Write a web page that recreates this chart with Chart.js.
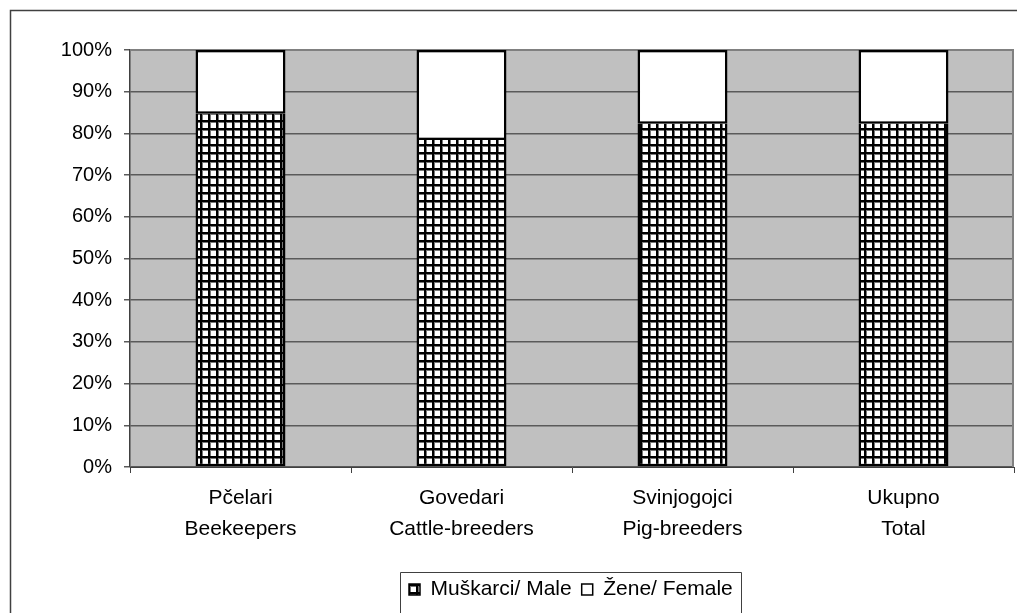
<!DOCTYPE html>
<html><head><meta charset="utf-8">
<script src="https://cdn.jsdelivr.net/npm/chart.js@4"></script>
<style>html,body{margin:0;padding:0;background:#fff}canvas{display:block}</style>
</head><body>
<canvas id="c" width="1017" height="613"></canvas>
<script>
const categories = [["Pčelari","Beekeepers"],["Govedari","Cattle-breeders"],["Svinjogojci","Pig-breeders"],["Ukupno","Total"]];
const maleValues = [84.7, 78.4, 82.3, 82.3];
const femaleValues = [15.3, 21.6, 17.7, 17.7];
const seriesNames = ["Muškarci/ Male", "Žene/ Female"];
const yTickLabels = ["0%","10%","20%","30%","40%","50%","60%","70%","80%","90%","100%"];

const FONT = "'Liberation Sans', Arial, sans-serif";
const canvas = document.getElementById('c');
const ctx = canvas.getContext('2d');

function makeGridPattern(){
  const c = document.createElement('canvas');
  c.width = 8; c.height = 8;
  const g = c.getContext('2d');
  g.fillStyle = '#fff'; g.fillRect(0,0,8,8);
  g.fillStyle = '#777'; g.fillRect(0,0,3,8); g.fillRect(0,0,8,3);
  g.fillStyle = '#000'; g.fillRect(0,0,2,8); g.fillRect(0,0,8,2);
  return ctx.createPattern(c, 'repeat');
}
const gridPattern = makeGridPattern();

const PLOT_BOTTOM = 467;
const PAD_BOTTOM = 3;

const decor = {
  id: 'decor',
  beforeDraw(chart){
    const a = chart.chartArea, c = chart.ctx;
    c.save();
    c.fillStyle = '#fff'; c.fillRect(0,0,chart.width,chart.height);
    c.strokeStyle = '#404040'; c.lineWidth = 1.5;
    c.strokeRect(10.5, 10.5, 1200, 800);
    c.fillStyle = '#c0c0c0';
    c.fillRect(a.left, a.top, a.right - a.left, a.bottom - a.top);
    c.restore();
  },
  beforeDatasetsDraw(chart){
    const a = chart.chartArea, c = chart.ctx;
    c.save();
    c.strokeStyle = '#808080'; c.lineWidth = 2;
    c.beginPath();
    c.moveTo(a.left, a.top); c.lineTo(a.right - 1, a.top); c.lineTo(a.right - 1, a.bottom);
    c.stroke();
    c.restore();
  },
  afterLayout(chart){
    chart.legend.left = 399;
  },
  afterDraw(chart){
    const lg = chart.legend, c = chart.ctx;
    c.save();
    c.strokeStyle = '#404040'; c.lineWidth = 1;
    const x0 = 400.5, x1 = Math.round(lg.left + lg.lineWidths[0] + 8) + 0.5;
    c.beginPath();
    c.moveTo(x0, 700); c.lineTo(x0, 572.5); c.lineTo(x1, 572.5); c.lineTo(x1, 700);
    c.stroke();
    c.restore();
  }
};

new Chart(canvas, {
  type: 'bar',
  data: {
    labels: categories,
    datasets: [
      { label: seriesNames[0], data: maleValues, backgroundColor: gridPattern, borderColor: '#000', borderWidth: 2.5, borderSkipped: 'top' },
      { label: seriesNames[1], data: femaleValues, backgroundColor: '#fff', borderColor: '#000', borderWidth: 2.5, borderSkipped: false }
    ]
  },
  options: {
    responsive: false,
    animation: false,
    devicePixelRatio: 1,
    layout: { padding: { left: 0, right: 3, top: 50, bottom: PAD_BOTTOM } },
    datasets: { bar: { categoryPercentage: 1, barPercentage: 0.407 } },
    scales: {
      x: {
        stacked: true,
        grid: { offset: true, drawOnChartArea: false, drawTicks: true, tickLength: 6, color: '#404040' },
        border: { display: true, color: '#404040', width: 1 },
        ticks: { color: '#000', padding: 9, font: { family: FONT, size: 21, lineHeight: 1.5 }, maxRotation: 0, autoSkip: false },
        afterFit(s){ s.height = s.chart.height - PLOT_BOTTOM - s.chart.legend.height - PAD_BOTTOM; }
      },
      y: {
        stacked: true,
        min: 0, max: 100,
        grid: { color: '#5a5a5a', lineWidth: 1.5, tickLength: 6, drawTicks: true },
        border: { display: true, color: '#404040', width: 1.5 },
        ticks: { stepSize: 10, color: '#000', padding: 12, font: { family: FONT, size: 20 },
          callback: (v) => yTickLabels[Math.round(v/10)] },
        afterFit(s){ s.width = 130; }
      }
    },
    plugins: {
      tooltip: { enabled: false },
      legend: {
        position: 'bottom',
        align: 'start',
        labels: {
          color: '#000',
          font: { family: FONT, size: 21 },
          boxWidth: 11, boxHeight: 11, padding: 10,
          generateLabels: (chart) => Chart.defaults.plugins.legend.labels.generateLabels(chart).map(l => Object.assign(l, { lineWidth: 1.5 }))
        }
      }
    }
  },
  plugins: [decor]
});
</script>
</body></html>
